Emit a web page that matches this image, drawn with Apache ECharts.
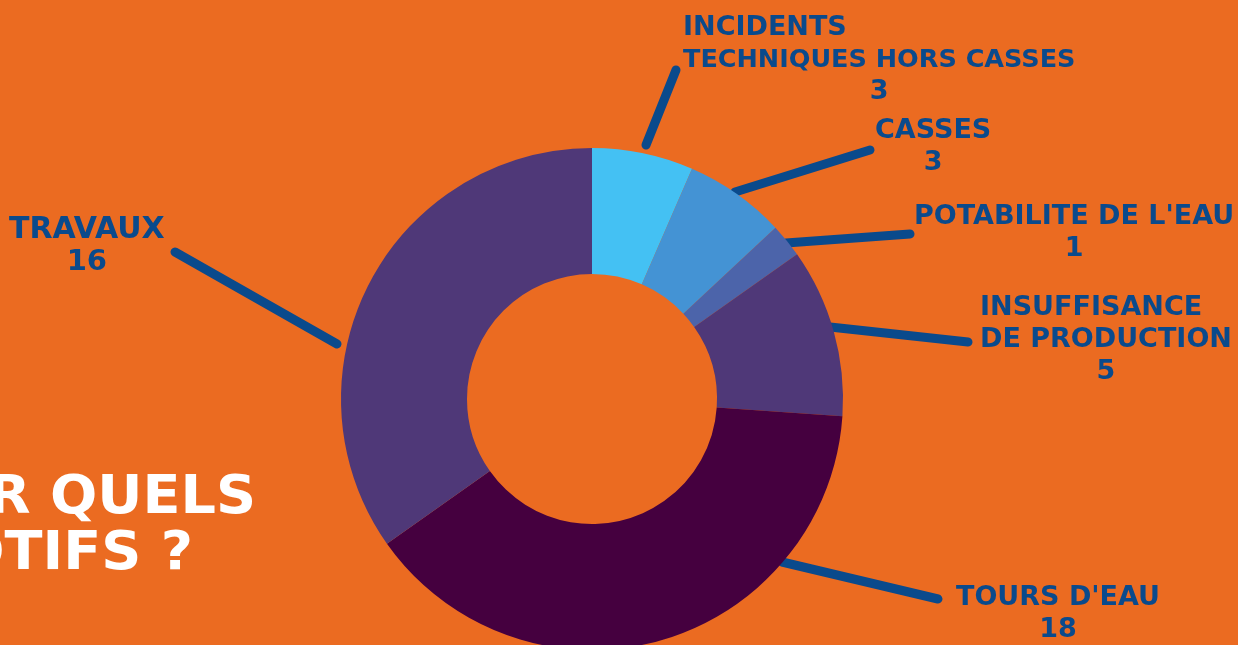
<!DOCTYPE html>
<html>
<head>
<meta charset="utf-8">
<script src="https://cdn.jsdelivr.net/npm/echarts@6/dist/echarts.min.js"></script>
<style>
  html, body { margin: 0; padding: 0; background: #EB6B21; }
  #chart { width: 1238px; height: 645px; }
</style>
</head>
<body>
<div id="chart"></div>
<script>
// ---- data ----
const categories = [
  "INCIDENTS\nTECHNIQUES HORS CASSES",
  "CASSES",
  "POTABILITE DE L'EAU",
  "INSUFFISANCE\nDE PRODUCTION",
  "TOURS D'EAU",
  "TRAVAUX"
];
const values = [3, 3, 1, 5, 18, 16];
const sliceColors = ['#44C1F3', '#4493D4', '#4C64AA', '#4F3878', '#45003F', '#4F3878'];
const titleLines = ["R QUELS", "OTIFS ?"];

// ---- label layout (positions only) ----
const labelBoxes = [
  { x: 683, y: 12 },
  { x: 875, y: 115 },
  { x: 914, y: 201 },
  { x: 980, y: 292 },
  { x: 956, y: 582 },
  { x: 9,   y: 214 }
];
const labelLines = [
  [[646, 145], [676, 70]],
  [[735, 192], [870, 150]],
  [[786, 243], [910, 234]],
  [[830, 327], [968, 342]],
  [[782, 562], [938, 599]],
  [[337, 344], [175, 252]]
];
const lineStyles = [
  ['nl', 'nls', 'v'],
  ['n', 'v'],
  ['n', 'v'],
  ['nl', 'nl', 'v'],
  ['n', 'v'],
  ['nb', 'vb']
];

const BLUE = '#0A4A8C';
const FONT = 'DejaVu Sans';

const chart = echarts.init(document.getElementById('chart'));
const baseText = { color: BLUE, fontFamily: FONT, fontWeight: 'bold', fontSize: 27, lineHeight: 32 };

chart.setOption({
  backgroundColor: '#EB6B21',
  animation: false,
  graphic: [
    {
      type: 'text',
      x: 256, y: 499, scaleX: 1.05,
      style: { text: titleLines[0], fill: '#FFFFFF', font: 'bold 53px "DejaVu Sans"', align: 'right', verticalAlign: 'middle' }
    },
    {
      type: 'text',
      x: 193, y: 555, scaleX: 1.05,
      style: { text: titleLines[1], fill: '#FFFFFF', font: 'bold 53px "DejaVu Sans"', align: 'right', verticalAlign: 'middle' }
    }
  ],
  series: [{
    type: 'pie',
    center: [592, 399],
    radius: [125, 251],
    startAngle: 90,
    clockwise: true,
    avoidLabelOverlap: false,
    silent: true,
    data: categories.map((c, i) => ({ name: c, value: values[i], itemStyle: { color: sliceColors[i] } })),
    label: {
      show: true,
      position: 'outside',
      formatter: function (p) {
        const st = lineStyles[p.dataIndex];
        const lines = p.name.split('\n');
        const out = lines.map((l, k) => '{' + st[k] + '|' + l + '}');
        out.push('{' + st[st.length - 1] + '|' + p.value + '}');
        return out.join('\n');
      },
      rich: {
        n:   Object.assign({}, baseText, { align: 'center' }),
        nl:  Object.assign({}, baseText, { align: 'left' }),
        nls: Object.assign({}, baseText, { align: 'left', fontSize: 25.5 }),
        v:   Object.assign({}, baseText, { align: 'center' }),
        nb:  Object.assign({}, baseText, { align: 'center', fontSize: 30 }),
        vb:  Object.assign({}, baseText, { align: 'center', fontSize: 29 })
      }
    },
    labelLine: {
      show: true,
      length: 20,
      length2: 0,
      smooth: false,
      lineStyle: { color: BLUE, width: 9, cap: 'round' }
    },
    labelLayout: function (params) {
      const i = params.dataIndex;
      return {
        x: labelBoxes[i].x,
        y: labelBoxes[i].y,
        align: 'left',
        verticalAlign: 'top',
        labelLinePoints: labelLines[i]
      };
    }
  }]
});
</script>
</body>
</html>
